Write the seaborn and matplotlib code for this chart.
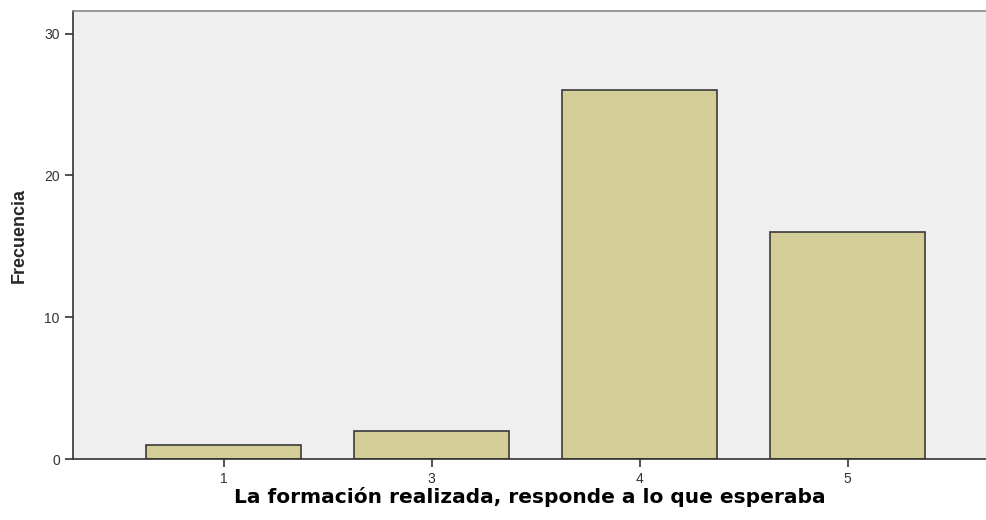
import matplotlib
matplotlib.use("Agg")
import matplotlib.pyplot as plt
import seaborn as sns
import pandas as pd

# valores
categorias = ["1", "3", "4", "5"]
frecuencias = [1, 2, 26, 16]

sns.set_theme(style="white")
plt.rcParams['font.family'] = ['Liberation Sans', 'DejaVu Sans']

df = pd.DataFrame({"cat": categorias, "freq": frecuencias})

fig = plt.figure(figsize=(9.87, 5.2), dpi=100)
ax = fig.add_axes([0.074, 0.1173, 0.926, 0.8615])
ax.set_facecolor('#efefef')

sns.barplot(data=df, x="cat", y="freq", color='#d3ce97', width=0.745,
            edgecolor='#3a3a3a', linewidth=1.2, saturation=1, ax=ax)

ax.set_xlim(-0.724, 3.67)
ax.set_ylim(0, 31.6)
ax.set_yticks([0, 10, 20, 30])

for s in ['left', 'bottom', 'top']:
    ax.spines[s].set_color('#333333')
    ax.spines[s].set_linewidth(1.2)
ax.spines['top'].set_color('#888888')
ax.spines['right'].set_visible(False)

ax.tick_params(axis='both', which='both', bottom=True, left=True, length=6,
               width=1.2, color='#333333', labelsize=10, labelcolor='#333333',
               direction='out')
ax.tick_params(axis='x', pad=3)

ax.set_ylabel('Frecuencia', fontsize=13, fontweight='bold',
              family=['Liberation Sans Narrow', 'Liberation Sans'], labelpad=12)
ax.set_xlabel('La formación realizada, responde a lo que esperaba', fontsize=14.5,
              fontweight='bold', family=['DejaVu Sans'], color='black', labelpad=1)

fig.savefig('out.png', dpi=100)
